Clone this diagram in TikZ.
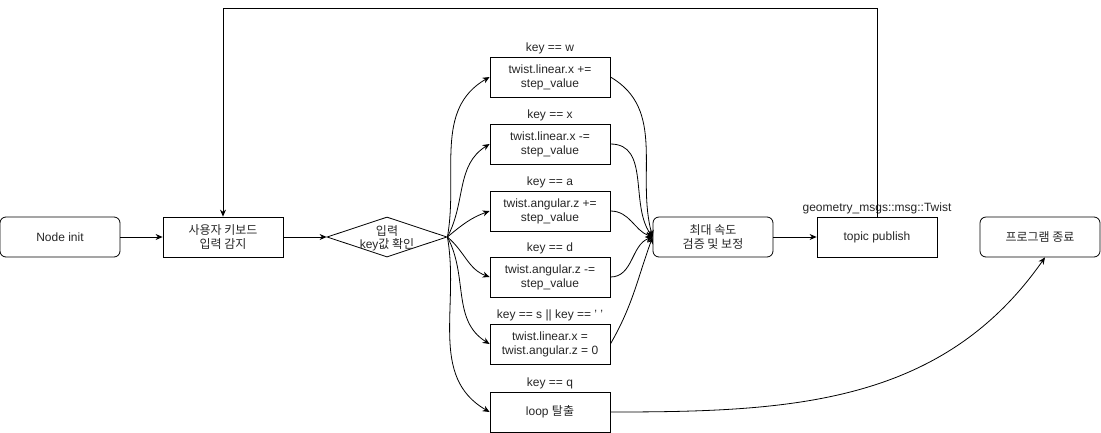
\documentclass[tikz,border=0pt]{standalone}
\usepackage{fontspec}
\setmainfont{Liberation Sans}
\newfontfamily\kr{Noto Sans CJK KR}
\usetikzlibrary{arrows.meta,shapes.geometric}
\tikzset{
  base/.style={draw, line width=0.8pt, minimum width=120pt, minimum height=40pt, align=center, inner sep=1pt, font=\fontsize{12}{14}\selectfont, text=black!85},
  rbox/.style={base, rounded corners=6pt},
  sbox/.style={base},
  dia/.style={draw, line width=0.8pt, diamond, aspect=3, minimum width=120pt, minimum height=40pt, inner sep=0pt, align=center},
  lbl/.style={font=\fontsize{12}{14}\selectfont, text=black!85, inner sep=0pt},
  arr/.style={line width=0.8pt, -{Stealth[length=7pt,width=6pt]}},
  ln/.style={line width=0.8pt}
}
\begin{document}
\begin{tikzpicture}[x=1pt,y=-1pt]
\useasboundingbox (0,0) rectangle (1101,432);
\node[rbox] (init) at (60,237) {Node init};
\node[sbox] (input) at (223,237) {\kr 사용자 키보드\\\kr 입력 감지};
\node[dia] (chk) at (387,237) {};
\node[lbl, align=center, font=\fontsize{12}{13}\selectfont] (chkt) at (387,238) {\kr 입력\\key\kr 값 확인};
\node[sbox] (w) at (550,77) {twist.linear.x +=\\step\_value};
\node[sbox] (x) at (550,144) {twist.linear.x -=\\step\_value};
\node[sbox] (a) at (550,211) {twist.angular.z +=\\step\_value};
\node[sbox] (d) at (550,277) {twist.angular.z -=\\step\_value};
\node[sbox] (s) at (550,344) {twist.linear.x =\\twist.angular.z = 0};
\node[sbox] (q) at (550,412) {loop {\kr 탈출}};
\node[lbl] (lw) at (550,48) {key == w};
\node[lbl] (lx) at (550,115) {key == x};
\node[lbl] (la) at (550,182) {key == a};
\node[lbl] (ld) at (550,248) {key == d};
\node[lbl] (ls) at (550,315) {key == s || key == ' '};
\node[lbl] (lq) at (550,383) {key == q};
\node[rbox] (max) at (713,237) {\kr 최대 속도\\\kr 검증 및 보정};
\node[sbox] (pub) at (877,237) {topic publish};
\node[lbl] (lpub) at (877,208) {geometry\_msgs::msg::Twist};
\node[rbox] (end) at (1040,237) {\kr 프로그램 종료};
\coordinate (t1) at (877,8);
\coordinate (t2) at (223,8);
\draw[arr] (init) -- (input);
\draw[arr] (input) -- (chk);
\draw[arr] (chk.east) to[out=80,in=210] (w.west);
\draw[arr] (chk.east) to[out=62,in=212] (x.west);
\draw[arr] (chk.east) to[out=40,in=200] (a.west);
\draw[arr] (chk.east) to[out=-40,in=160] (d.west);
\draw[arr] (chk.east) to[out=-62,in=148] (s.west);
\draw[arr] (chk.east) to[out=-80,in=150] (q.west);
\draw[arr] (w.east) to[out=-30,in=105] (max.west);
\draw[arr] (x.east) to[out=0,in=125] (max.west);
\draw[arr] (a.east) to[out=0,in=160] (max.west);
\draw[arr] (d.east) to[out=0,in=200] (max.west);
\draw[arr] (s.east) to[out=60,in=250] (max.west);
\draw[arr] (max) -- (pub);
\draw[arr] (pub.north) -- (t1) -- (t2) -- (input.north);
\draw[arr] (q.east) to[out=0,in=235] ([xshift=5pt]end.south);
\end{tikzpicture}
\end{document}
